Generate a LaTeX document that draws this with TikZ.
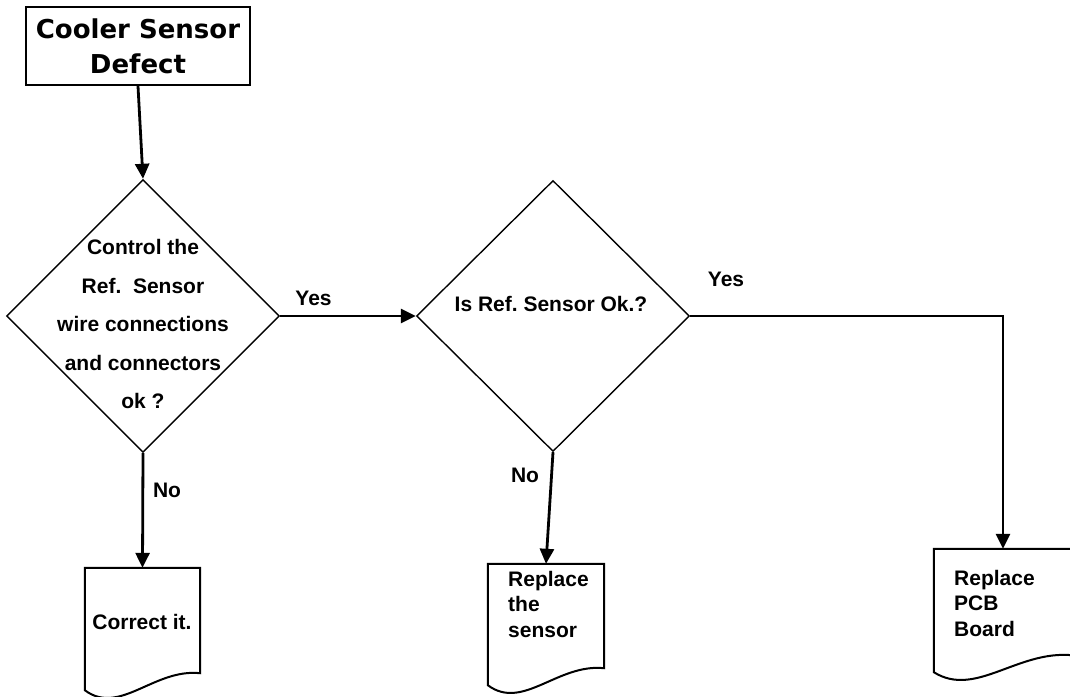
\documentclass[tikz,border=0pt]{standalone}
\usepackage{fontspec}
\setmainfont{Liberation Sans}
\newfontfamily\titlefont{DejaVu Sans}
\usetikzlibrary{calc, positioning, shapes.geometric, arrows.meta}

\tikzset{
  startbox/.style={draw, line width=2.2pt, minimum width=224pt, minimum height=78pt, inner sep=0pt, align=center, font=\titlefont\bfseries\fontsize{26}{35}\selectfont},
  decision/.style={draw, diamond, aspect=1, line width=1.4pt, minimum width=273pt, minimum height=273pt, inner sep=0pt},
  qtext/.style={align=center, inner sep=0pt, font=\bfseries\fontsize{21}{38.5}\selectfont},
  docnode/.style={inner sep=0pt, minimum height=122pt},
  doctext/.style={align=left, inner sep=0pt, anchor=north west, font=\bfseries\fontsize{21}{25.5}\selectfont},
  lbl/.style={inner sep=0pt, font=\bfseries\fontsize{21}{25}\selectfont},
  flow/.style={line width=2.8pt, -{Triangle[length=15pt,width=14pt]}},
  docline/.style={line width=2pt, line join=miter}
}

% Dokument-Symbol mit Wellenkante unten
\newcommand{\docrahmen}[1]{%
  \draw[docline] (#1.north west) -- (#1.south west)
    .. controls ($(#1.south west)!0.3!(#1.south east)+(0,-26)$)
    and ($(#1.south west)!0.6!(#1.south east)+(0,22)$)
    .. ($(#1.south east)+(0,17)$) -- (#1.north east) -- cycle;}

\begin{document}
\frenchspacing
\begin{tikzpicture}[x=1pt,y=1pt]
        \useasboundingbox (0,0) rectangle (1070,696);

        %Knoten
        \node[startbox] (defekt) at (138,650) {Cooler Sensor\\Defect};
        \node[decision] (pruef1) at (143,380) {};
        \node[qtext] (pruef1txt) at (143,372) {Control the\\Ref.\ \ Sensor\\wire connections\\and connectors\\ok ?};
        \node[decision, minimum height=271pt] (pruef2) at (553,380) {};
        \node[qtext] (pruef2txt) at (551,392) {Is Ref. Sensor Ok.?};

        %Dokumente
        \node[docnode, minimum width=115pt] (korr) at (142.5,67) {};
        \node[docnode, minimum width=116pt, minimum height=121pt] (sensor) at (546,71.5) {};
        \node[docnode, minimum width=138pt, minimum height=123pt] (platine) at (1003,85.5) {};
        \docrahmen{korr}
        \docrahmen{sensor}
        \docrahmen{platine}
        \node[lbl] (korrtxt) at (142,73.6) {Correct it.};
        \node[doctext] (sensortxt) at (508,125.3) {Replace\\the\\sensor};
        \node[doctext] (platinetxt) at (954,126.3) {Replace\\PCB\\Board};

        %Pfeile
        \draw[flow] (defekt.south) -- (pruef1.north);
        \draw[flow] (pruef1.east) -- (pruef2.west);
        \draw[flow] (pruef2.east) -| (platine.north);
        \draw[flow] (pruef1.south) -- (korr.north);
        \draw[flow] (pruef2.south) -- (sensor.north);

        %Beschriftung
        \node[lbl] (ja1) at (313.5,398) {Yes};
        \node[lbl] (ja2) at (726,417) {Yes};
        \node[lbl] (nein1) at (167,205.5) {No};
        \node[lbl] (nein2) at (525,220.5) {No};
    \end{tikzpicture}
\end{document}
